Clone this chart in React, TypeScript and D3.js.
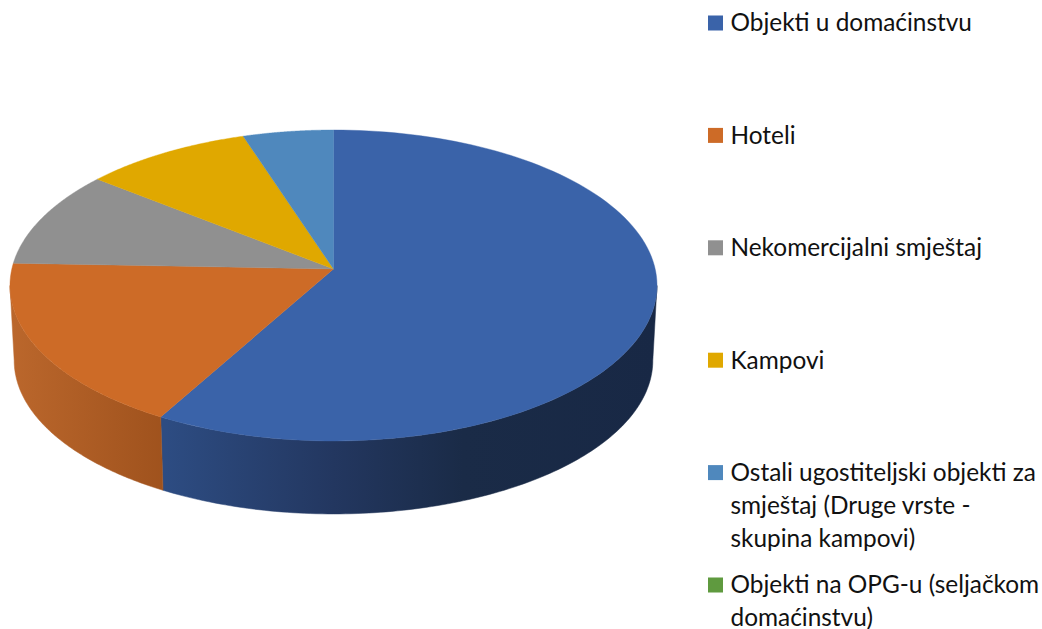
import React from "react";
import * as d3 from "d3";

const categories = [
  ["Objekti u domaćinstvu"],
  ["Hoteli"],
  ["Nekomercijalni smještaj"],
  ["Kampovi"],
  ["Ostali ugostiteljski objekti za", "smještaj (Druge vrste -", "skupina kampovi)"],
  ["Objekti na OPG-u (seljačkom", "domaćinstvu)"],
];
const values = [58.1, 17.5, 10.1, 9.3, 5.0, 0];
const colors = ["#3a63a9", "#cd6b27", "#909090", "#e0a800", "#4f88bd", "#5f9a3f"];
const sideStops: Record<number, [number, string][]> = {
  0: [[0.24, "#2d4c82"], [0.5, "#233760"], [0.7, "#1a2b47"], [1, "#182845"]],
  1: [[0, "#bb672c"], [0.24, "#9f521d"]],
};

const W = 1042, H = 629;
// Perspective projection of the unit disc onto the page
const cx = 333.5, apexY = 269, kx = 321.7, ay = 125.2, persp = -0.1061;
const midY = 285.5, drop = 75, shrink = 0.987;
const project = (a: number, z: number) => {
  const u = Math.sin(a), v = -Math.cos(a);
  const w = 1 + persp * v;
  const x = (kx * u) / w;
  const y = (ay * v + apexY) / w;
  return z
    ? ([cx + shrink * x, midY + drop + shrink * (y - midY)] as [number, number])
    : ([cx + x, y] as [number, number]);
};
const arcPts = (a0: number, a1: number, z: number) =>
  d3.range(0, 121).map((i) => project(a0 + ((a1 - a0) * i) / 120, z));
const line = d3.line();

export default function App() {
  const arcs = d3.pie<number>().sort(null)(values);
  const visEnd = Math.PI * 1.466, visStart = Math.PI * 0.534;
  return (
    <svg width={W} height={H} style={{ position: "absolute", left: 0, top: 0, background: "#fff" }}>
      <defs>
        {Object.entries(sideStops).map(([k, st]) => (
          <linearGradient key={k} id={`side${k}`} gradientUnits="userSpaceOnUse" x1={10} x2={657} y1={0} y2={0}>
            {st.map(([o, c], i) => <stop key={i} offset={o} stopColor={c} />)}
          </linearGradient>
        ))}
      </defs>
      {arcs.map((d, i) => {
        const a0 = Math.max(d.startAngle, visStart), a1 = Math.min(d.endAngle, visEnd);
        if (a1 <= a0) return null;
        const pts = [...arcPts(a0, a1, 0), ...arcPts(a0, a1, 1).reverse()];
        return <path key={i} d={line(pts) + "Z"} fill={`url(#side${i})`} stroke={`url(#side${i})`} strokeWidth={0.5} />;
      })}
      {arcs.map((d, i) => d.endAngle > d.startAngle && (
        <path key={i} d={line([[cx, apexY], ...arcPts(d.startAngle, d.endAngle, 0)]) + "Z"} fill={colors[i]} stroke={colors[i]} strokeWidth={0.4} />
      ))}
      {categories.map((lines, i) => {
        const y = 23 + i * 112.4;
        return (
          <g key={i}>
            <rect x={708} y={y - 7.5} width={15} height={15} fill={colors[i]} />
            {lines.map((t, j) => (
              <text key={j} x={730.5} y={y + 8.3 + j * 33} fontFamily="Lato, sans-serif" fontSize={24.4} fill="#111">{t}</text>
            ))}
          </g>
        );
      })}
    </svg>
  );
}
